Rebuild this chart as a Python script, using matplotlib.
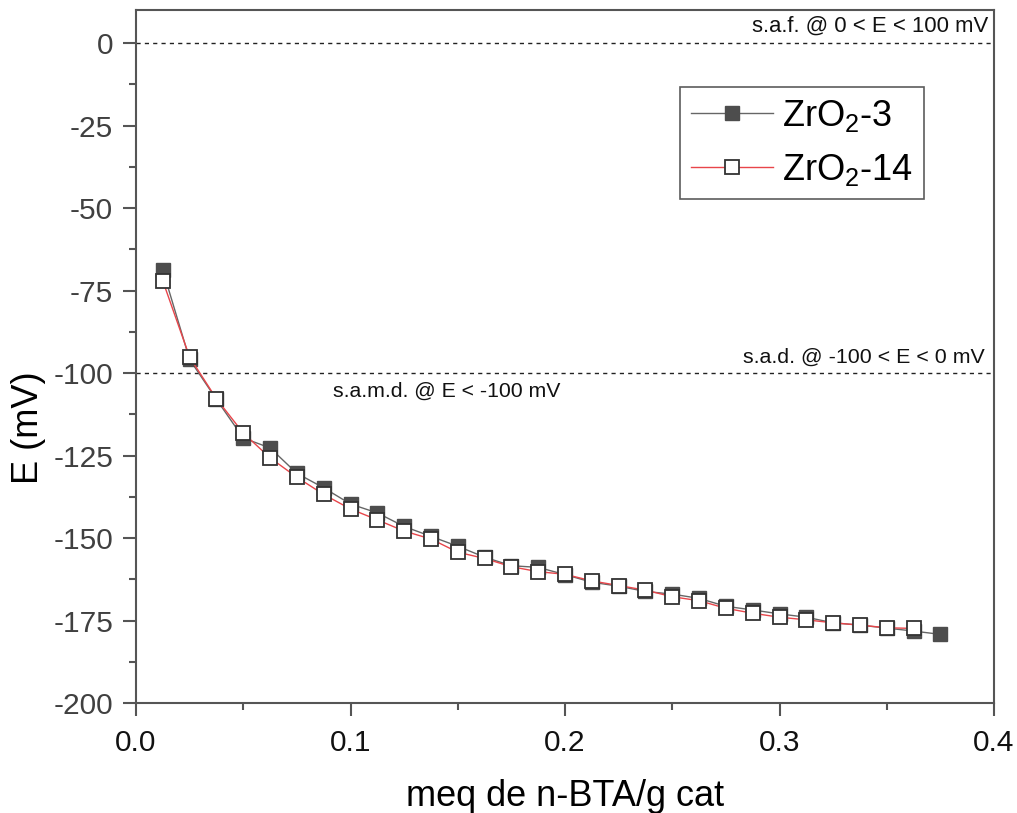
import matplotlib
matplotlib.use("Agg")
import matplotlib.pyplot as plt
from matplotlib.ticker import MultipleLocator

plt.rcParams['font.family'] = ['Liberation Sans', 'DejaVu Sans']
plt.rcParams['mathtext.fontset'] = 'custom'
plt.rcParams['mathtext.rm'] = 'Liberation Sans'
plt.rcParams['mathtext.it'] = 'Liberation Sans:italic'
plt.rcParams['mathtext.bf'] = 'Liberation Sans:bold'

x_zr3 = [0.0125, 0.025, 0.0375, 0.05, 0.0625, 0.075, 0.0875, 0.1, 0.1125, 0.125,
         0.1375, 0.15, 0.1625, 0.175, 0.1875, 0.2, 0.2125, 0.225, 0.2375, 0.25,
         0.2625, 0.275, 0.2875, 0.3, 0.3125, 0.325, 0.3375, 0.35, 0.3625, 0.375]
e_zr3 = [-68.8, -95.9, -108.0, -119.7, -122.7, -130.4, -134.8, -139.7, -142.4, -146.5,
         -149.5, -152.5, -155.8, -158.4, -158.9, -161.1, -163.4, -164.6, -166.2, -167.0,
         -168.3, -170.7, -171.8, -173.0, -174.0, -175.7, -176.4, -177.3, -178.2, -179.2]

x_zr14 = [0.0125, 0.025, 0.0375, 0.05, 0.0625, 0.075, 0.0875, 0.1, 0.1125, 0.125,
          0.1375, 0.15, 0.1625, 0.175, 0.1875, 0.2, 0.2125, 0.225, 0.2375, 0.25,
          0.2625, 0.275, 0.2875, 0.3, 0.3125, 0.325, 0.3375, 0.35, 0.3625]
e_zr14 = [-72.1, -95.2, -107.8, -118.2, -125.7, -131.6, -136.8, -141.2, -144.5, -147.9,
          -150.3, -154.3, -156.2, -158.7, -160.2, -161.0, -163.0, -164.4, -165.8, -167.8,
          -169.0, -171.3, -172.8, -174.0, -174.8, -175.7, -176.4, -177.2, -177.4]

series_labels = ['ZrO$_\\mathregular{2}$-3', 'ZrO$_\\mathregular{2}$-14']
ref_levels = [0, -100]
ref_texts = ['s.a.f. @ 0 < E < 100 mV', 's.a.d. @ -100 < E < 0 mV', 's.a.m.d. @ E < -100 mV']
x_ticks = [0.0, 0.1, 0.2, 0.3, 0.4]
y_ticks = [0, -25, -50, -75, -100, -125, -150, -175, -200]

fig = plt.figure(figsize=(10.17, 8.13), dpi=100)
ax = fig.add_axes([136/1017, 1 - 703/813, (994-136)/1017, (703-10)/813])

ax.plot(x_zr3, e_zr3, '-', color='#666666', lw=1.0, marker='s', ms=9.5,
        mfc='#4d4d4d', mec='#4d4d4d', mew=1.0, label=series_labels[0], zorder=3)
ax.plot(x_zr14, e_zr14, '-', color='#e8454a', lw=1.0, marker='s', ms=9.5,
        mfc='white', mec='#333333', mew=1.3, label=series_labels[1], zorder=4)

for lv in ref_levels:
    ax.axhline(lv, color='#222222', lw=1.0, ls=(0, (3, 3)), zorder=1)

ax.text(0.3975, 1.8, ref_texts[0], ha='right', va='bottom', fontsize=15.9, color='#111111')
ax.text(0.3955, -98.2, ref_texts[1], ha='right', va='bottom', fontsize=15.4, color='#111111')
ax.text(0.0918, -102.5, ref_texts[2], ha='left', va='top', fontsize=15.3, color='#111111')

ax.set_xlim(0, 0.4)
ax.set_ylim(-200, 10)
ax.set_xticks(x_ticks)
ax.set_xticklabels(['%.1f' % v for v in x_ticks])
ax.set_yticks(y_ticks)
ax.set_yticklabels(['%d' % v for v in y_ticks])
ax.xaxis.set_minor_locator(MultipleLocator(0.05))
ax.yaxis.set_minor_locator(MultipleLocator(12.5))

ax.tick_params(axis='both', which='major', direction='out', length=9.4, width=1.5,
               color='#555555', labelsize=21.5, labelcolor='#404040', pad=7)
ax.tick_params(axis='both', which='minor', direction='out', length=5, width=1.5,
               color='#555555')
ax.tick_params(axis='x', labelcolor='#111111', pad=9)
ax.tick_params(top=False, right=False)

for s in ax.spines.values():
    s.set_linewidth(1.5)
    s.set_color('#555555')

ax.set_xlabel('meq de n-BTA/g cat', fontsize=26, labelpad=16)
ax.set_ylabel('E (mV)', fontsize=26)
ax.yaxis.set_label_coords(-0.105, 0.397)

leg = ax.legend(loc='upper right', bbox_to_anchor=((924-136)/858, 1 - (87-10)/693),
                borderaxespad=0, fontsize=26, frameon=True, fancybox=False,
                handlelength=2.25, handletextpad=0.27, borderpad=0.3,
                labelspacing=0.5, markerscale=1.0)
leg.get_frame().set_edgecolor('#333333')
leg.get_frame().set_linewidth(1.2)

fig.savefig('out.png', dpi=100)
